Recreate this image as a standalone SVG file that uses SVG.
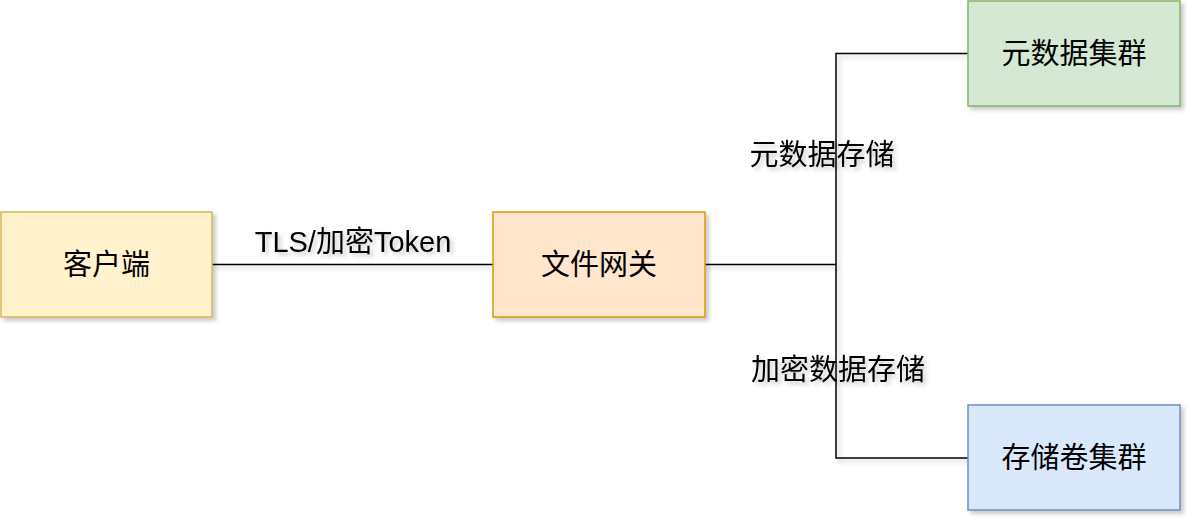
<svg xmlns="http://www.w3.org/2000/svg" width="1200" height="531" viewBox="0 0 1200 531">
  <defs>
    <filter id="sh" x="-20%" y="-20%" width="140%" height="140%">
      <feDropShadow dx="3" dy="3" stdDeviation="2" flood-color="#000" flood-opacity="0.22"/>
    </filter>
  </defs>
  <style>
    .node { stroke-width: 1.5; filter: url(#sh); }
    .edge { fill: none; stroke: #000; stroke-width: 1.5; }
    .t { font-family: "Liberation Sans", "Noto Sans CJK SC", sans-serif; font-size: 29px; fill: #000; text-anchor: middle; }
    .lbl { filter: url(#sh); }
  </style>
  <rect width="1200" height="531" fill="#fff"/>
  <g id="connectors" filter="url(#sh)">
    <path class="edge" d="M212 264.5 H493"/>
    <path class="edge" d="M705 264.5 H836 V53.5 H968"/>
    <path class="edge" d="M836 264.5 V458 H968"/>
  </g>
  <g id="edge-labels" class="lbl">
    <text class="t" x="353" y="252">TLS/加密Token</text>
    <text class="t" x="822" y="165">元数据存储</text>
    <text class="t" x="838" y="380">加密数据存储</text>
  </g>
  <g id="client">
    <rect class="node" x="1" y="212" width="211" height="105" fill="#fff2cc" stroke="#d6b656"/>
    <text class="t" x="106.5" y="275">客户端</text>
  </g>
  <g id="gateway">
    <rect class="node" x="493" y="212" width="212" height="105" fill="#ffe6cc" stroke="#d79b00"/>
    <text class="t" x="599" y="275">文件网关</text>
  </g>
  <g id="meta">
    <rect class="node" x="968" y="1" width="212" height="105" fill="#d5e8d4" stroke="#82b366"/>
    <text class="t" x="1074" y="64">元数据集群</text>
  </g>
  <g id="volume">
    <rect class="node" x="968" y="405" width="212" height="105" fill="#dae8fc" stroke="#6c8ebf"/>
    <text class="t" x="1074" y="468">存储卷集群</text>
  </g>
</svg>
